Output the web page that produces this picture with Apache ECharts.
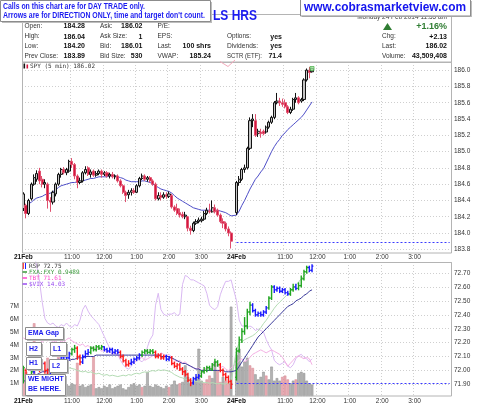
<!DOCTYPE html>
<html><head><meta charset="utf-8">
<script src="https://cdn.jsdelivr.net/npm/echarts@6/dist/echarts.min.js"></script>
<style>html,body{margin:0;padding:0;background:#fff}#c{width:480px;height:406px}</style>
</head><body><div id="c"></div>
<script>
const FONT = '"Liberation Sans", Arial, sans-serif';
const MONO = '"DejaVu Sans Mono", monospace';

// ---------- axis / category structure ----------
const DAY1_BARS = 78;          // 9:30 .. 15:55, 5 min
const DAY2_START = 79;         // one blank slot between sessions
const SLOTS = 159;
const tickLabels = {0:'21Feb',18:'11:00',30:'12:00',42:'1:00',54:'2:00',66:'3:00',
                    79:'24Feb',97:'11:00',109:'12:00',121:'1:00',133:'2:00',145:'3:00'};
const dateTicks = [0, 79];
const priceTicks = {min:183.8, max:186.1, interval:0.2};
const rspTicks = {min:71.9, max:72.78, interval:0.1};
const volTicks = {min:0, max:10.5, interval:1, shownMax:7};

// ---------- SPY 5 min candles [open, close, low, high] ----------
const spyDay1 = [
[184.30,184.48,184.27,184.50],[184.34,184.24,184.18,184.36],[184.24,184.40,184.22,184.42],[184.42,184.60,184.40,184.62],
[184.60,184.68,184.58,184.72],[184.66,184.73,184.63,184.77],[184.76,184.64,184.60,184.80],[184.66,184.60,184.56,184.70],
[184.60,184.62,184.55,184.66],[184.60,184.40,184.30,184.62],[184.40,184.38,184.26,184.44],[184.38,184.50,184.35,184.52],
[184.48,184.60,184.45,184.62],[184.60,184.72,184.58,184.74],[184.72,184.78,184.68,184.80],[184.78,184.74,184.72,184.81],
[184.74,184.78,184.71,184.80],[184.76,184.88,184.74,184.90],[184.88,184.84,184.80,184.92],[184.84,184.70,184.66,184.86],
[184.70,184.62,184.55,184.72],[184.62,184.64,184.60,184.68],[184.64,184.74,184.62,184.76],[184.74,184.78,184.72,184.82],
[184.80,184.72,184.70,184.82],[184.72,184.75,184.68,184.78],[184.76,184.71,184.69,184.78],[184.71,184.73,184.69,184.76],
[184.73,184.76,184.71,184.78],[184.76,184.72,184.68,184.78],[184.72,184.74,184.70,184.76],[184.74,184.70,184.68,184.76],
[184.70,184.72,184.67,184.74],[184.72,184.69,184.67,184.75],[184.69,184.70,184.66,184.72],[184.70,184.64,184.62,184.72],
[184.64,184.58,184.56,184.66],[184.58,184.50,184.48,184.60],[184.50,184.46,184.38,184.52],[184.47,184.50,184.42,184.53],
[184.50,184.52,184.46,184.55],[184.52,184.50,184.48,184.55],[184.50,184.58,184.49,184.60],[184.58,184.67,184.56,184.69],
[184.67,184.70,184.65,184.73],[184.70,184.66,184.64,184.72],[184.66,184.68,184.63,184.70],[184.68,184.64,184.62,184.70],
[184.64,184.60,184.58,184.66],[184.60,184.42,184.40,184.62],[184.42,184.46,184.40,184.50],[184.46,184.44,184.40,184.50],
[184.44,184.47,184.42,184.50],[184.47,184.45,184.42,184.50],[184.45,184.48,184.43,184.51],[184.46,184.32,184.30,184.48],
[184.32,184.28,184.26,184.34],[184.30,184.24,184.22,184.36],[184.25,184.22,184.19,184.30],[184.23,184.20,184.18,184.26],
[184.20,184.22,184.17,184.26],[184.20,184.06,184.02,184.21],[184.06,184.03,183.98,184.09],[184.03,184.12,184.01,184.14],
[184.12,184.14,184.10,184.17],[184.14,184.16,184.12,184.19],[184.15,184.17,184.13,184.20],[184.17,184.24,184.15,184.27],
[184.24,184.28,184.22,184.31],[184.27,184.26,184.24,184.36],[184.26,184.31,184.25,184.40],[184.31,184.26,184.24,184.35],
[184.28,184.22,184.20,184.30],[184.22,184.14,184.12,184.24],[184.14,184.12,184.06,184.18],[184.12,184.05,184.02,184.14],
[184.05,184.00,183.96,184.08],[184.00,183.90,183.81,184.02]];
const spyDay2 = [
[184.25,184.62,184.22,184.64],[184.62,184.66,184.58,184.70],[184.66,184.78,184.64,184.80],[184.78,184.80,184.74,184.84],
[184.80,185.04,184.78,185.06],[185.04,185.38,185.02,185.42],[185.38,185.40,185.30,185.46],[185.38,185.20,185.18,185.46],
[185.22,185.25,185.18,185.28],[185.24,185.22,185.17,185.28],[185.25,185.22,185.20,185.27],[185.24,185.30,185.22,185.32],
[185.30,185.36,185.28,185.38],[185.36,185.42,185.34,185.44],[185.42,185.60,185.40,185.62],[185.60,185.62,185.58,185.72],
[185.62,185.60,185.56,185.66],[185.60,185.58,185.55,185.65],[185.60,185.55,185.53,185.64],[185.55,185.48,185.46,185.57],
[185.48,185.52,185.46,185.55],[185.52,185.64,185.50,185.66],[185.64,185.66,185.60,185.72],[185.66,185.60,185.58,185.68],
[185.62,185.64,185.60,185.66],[185.64,185.88,185.62,185.90],[185.88,186.00,185.86,186.02],[186.00,185.97,185.90,186.04],
[185.98,186.02,185.97,186.03]];
const spyEmaDay1 = [184.30,184.33,184.36,184.38,184.41,184.43,184.44,184.45,184.47,184.48,184.49,184.51,184.53,184.56,
184.58,184.59,184.60,184.61,184.62,184.62,184.63,184.63,184.64,184.65,184.66,184.67,184.67,184.68,184.69,184.69,184.69,
184.69,184.70,184.70,184.70,184.69,184.68,184.67,184.65,184.64,184.63,184.63,184.63,184.63,184.64,184.64,184.63,184.62,
184.60,184.58,184.56,184.54,184.53,184.52,184.51,184.49,184.46,184.43,184.41,184.39,184.37,184.35,184.33,184.31,184.30,
184.29,184.28,184.28,184.28,184.28,184.28,184.28,184.28,184.27,184.26,184.25,184.23,184.21];
const spyEmaDay2 = [184.22,184.27,184.34,184.40,184.47,184.54,184.60,184.66,184.70,184.75,184.79,184.86,184.93,185.00,
185.06,185.11,185.15,185.20,185.23,185.27,185.30,185.33,185.36,185.39,185.42,185.46,185.51,185.56,185.61];
const spyPrevClose = 183.89;
const spyLast = 186.02;

// ---------- RSP bars [open, close, low, high] + impulse colour code ----------
const rspDay1 = [
[71.92,72.02,71.91,72.03],[72.00,71.92,71.89,72.01],[71.92,71.89,71.86,71.94],[71.90,71.99,71.89,72.00],
[71.99,72.04,71.98,72.06],[72.04,72.07,72.02,72.09],[72.07,72.01,71.99,72.08],[72.01,72.05,72.00,72.07],
[72.05,72.00,71.98,72.06],[72.00,71.95,71.93,72.01],[71.95,71.98,71.94,72.00],[71.98,72.01,71.97,72.03],
[72.01,72.04,72.00,72.05],[72.04,72.06,72.03,72.08],[72.06,72.09,72.05,72.10],[72.09,72.10,72.07,72.12],
[72.10,72.09,72.07,72.12],[72.09,72.12,72.08,72.13],[72.12,72.15,72.11,72.16],[72.15,72.16,72.13,72.18],
[72.16,72.10,72.08,72.17],[72.10,72.06,72.04,72.11],[72.06,72.10,72.05,72.11],[72.10,72.12,72.09,72.14],
[72.12,72.13,72.11,72.15],[72.13,72.16,72.12,72.17],[72.16,72.15,72.14,72.17],[72.15,72.17,72.14,72.18],
[72.17,72.16,72.15,72.18],[72.16,72.17,72.15,72.18],[72.17,72.15,72.14,72.17],[72.15,72.14,72.13,72.16],
[72.14,72.15,72.13,72.16],[72.15,72.13,72.12,72.16],[72.13,72.14,72.12,72.15],[72.14,72.13,72.12,72.15],
[72.13,72.10,72.09,72.14],[72.10,72.07,72.06,72.11],[72.07,72.04,72.03,72.08],[72.04,72.05,72.03,72.07],
[72.05,72.06,72.04,72.08],[72.06,72.08,72.05,72.09],[72.08,72.09,72.07,72.10],[72.09,72.11,72.08,72.12],
[72.11,72.13,72.10,72.14],[72.13,72.14,72.12,72.15],[72.14,72.13,72.12,72.15],[72.13,72.14,72.12,72.15],
[72.14,72.13,72.12,72.15],[72.13,72.10,72.09,72.14],[72.10,72.11,72.09,72.12],[72.11,72.09,72.08,72.12],
[72.09,72.10,72.08,72.11],[72.10,72.08,72.07,72.11],[72.08,72.09,72.07,72.10],[72.09,72.05,72.04,72.10],
[72.05,72.03,72.02,72.06],[72.03,72.04,72.01,72.05],[72.04,72.01,72.00,72.05],[72.01,71.99,71.97,72.02],
[71.99,71.97,71.96,72.00],[71.97,71.93,71.92,71.98],[71.93,71.91,71.89,71.94],[71.91,71.94,71.90,71.95],
[71.94,71.95,71.93,71.97],[71.95,71.96,71.94,71.97],[71.96,71.99,71.95,72.00],[71.99,72.00,71.98,72.02],
[72.00,72.02,71.99,72.03],[72.02,72.01,72.00,72.03],[72.01,72.04,72.00,72.05],[72.04,72.06,72.03,72.08],
[72.06,72.04,72.03,72.07],[72.04,72.00,71.99,72.05],[72.00,71.97,71.96,72.01],[71.97,71.95,71.93,71.98],
[71.95,71.92,71.91,71.96],[71.92,71.90,71.87,71.93]];
const rspDay2 = [
[71.95,72.14,71.93,72.16],[72.14,72.22,72.13,72.24],[72.22,72.28,72.20,72.30],[72.28,72.32,72.26,72.38],
[72.32,72.42,72.30,72.44],[72.42,72.47,72.40,72.49],[72.47,72.43,72.42,72.48],[72.43,72.40,72.39,72.44],
[72.40,72.41,72.39,72.42],[72.41,72.40,72.39,72.42],[72.40,72.42,72.39,72.43],[72.42,72.45,72.41,72.46],
[72.45,72.52,72.44,72.53],[72.52,72.60,72.51,72.61],[72.60,72.58,72.56,72.61],[72.58,72.59,72.57,72.60],
[72.59,72.57,72.56,72.60],[72.57,72.58,72.56,72.59],[72.58,72.56,72.55,72.59],[72.56,72.55,72.54,72.57],
[72.55,72.58,72.54,72.59],[72.58,72.60,72.57,72.62],[72.60,72.59,72.58,72.62],[72.59,72.61,72.58,72.63],
[72.61,72.66,72.60,72.68],[72.66,72.71,72.65,72.72],[72.71,72.74,72.70,72.75],[72.74,72.72,72.71,72.75],
[72.72,72.75,72.71,72.76]];
const rspColorDay1 = 'grrgbbrbrrbbbbbbbbggrrbbbgggggbbbbbbrrrrbbbbgggggrrrrbbrrrrrrrrbbbgggggggrrrrr';
const rspColorDay2 = 'ggggggbbbbbbggbbbbbbggbggggbb';
const rspEmaDay1 = [71.92,71.93,71.94,71.95,71.96,71.97,71.98,71.99,71.99,72.00,72.01,72.02,72.03,72.04,72.05,72.06,
72.06,72.07,72.08,72.08,72.09,72.09,72.09,72.10,72.10,72.10,72.10,72.11,72.11,72.11,72.11,72.11,72.11,72.11,72.11,
72.11,72.11,72.11,72.11,72.11,72.11,72.11,72.11,72.11,72.11,72.11,72.11,72.11,72.11,72.11,72.11,72.10,72.10,72.10,
72.10,72.09,72.08,72.07,72.06,72.05,72.05,72.04,72.03,72.02,72.01,72.01,72.00,72.00,72.00,72.00,72.00,72.00,72.00,
72.00,72.00,71.99,71.99,71.99];
const rspEmaDay2 = [72.00,72.03,72.06,72.09,72.12,72.15,72.18,72.21,72.24,72.26,72.28,72.30,72.32,72.34,72.36,72.38,
72.40,72.42,72.44,72.46,72.47,72.48,72.50,72.51,72.52,72.54,72.55,72.57,72.58];
const rspPrevClose = 71.91;

// ---------- SPY volume (millions) + direction ----------
const volDay1 = [2.2,1.9,1.2,1.0,5.7,1.0,0.9,1.0,0.8,3.0,1.1,0.9,0.8,3.7,1.0,1.1,0.9,0.8,1.0,0.9,2.6,0.8,0.9,0.7,0.8,
0.9,3.1,0.6,0.7,0.6,0.8,0.7,0.9,0.6,0.7,0.8,0.9,0.6,0.5,0.7,0.9,1.0,0.8,0.9,0.7,0.8,1.9,0.8,0.7,0.9,0.8,0.7,0.6,0.8,
0.7,0.9,1.2,0.9,1.0,1.1,2.4,1.5,1.0,1.2,1.5,3.7,1.2,1.0,1.3,1.6,1.4,2.7,2.0,1.1,1.5,1.2,1.0,7.0];
const volDay2 = [3.2,3.7,2.3,2.7,3.0,2.4,2.2,1.7,1.3,1.5,1.9,1.6,1.3,2.3,1.2,1.4,1.2,1.5,1.6,1.3,1.0,1.2,1.3,1.8,1.9,
1.8,1.2,1.0,0.9];
const volDirDay1 = 'dduuduuuuduuuduuuuuuduuuuuduuuuuuuuuuuuuuuuuduuuuuuuuuduuuduuuuuuuuddduuddudd';
const volDirDay2 = 'uuuuudduuuuduuuuuddduuduuuuuu';

// ---------- overlays (no visible axis) ----------
const vixDay1 = [14.75,14.75,14.75,14.75,14.70,14.62,14.52,14.38,14.27,14.24,14.23,14.24,14.22,14.21,14.23,14.22,14.24,
14.22,14.21,14.23,14.22,14.26,14.33,14.36,14.32,14.29,14.27,14.25,14.23,14.19,14.15,14.11,14.07,14.05,14.04,14.03,
13.99,13.96,13.94,13.93,13.95,13.98,14.00,13.99,13.98,14.00,14.08,14.13,14.16,14.36,14.44,14.33,14.30,14.29,14.30,
14.30,14.31,14.29,14.30,14.50,14.56,14.55,14.53,14.53,14.52,14.51,14.50,14.49,14.44,14.36,14.34,14.33,14.35,14.43,
14.48,14.52,14.52,14.53];
const vixDay2 = [14.39,14.26,14.22,14.22,14.21,14.22,14.21,14.19,14.20,14.19,14.18,14.13,14.09,14.06,13.99,13.97,13.96,
13.97,13.98,13.95,13.94,13.96,14.00,14.02,14.03,14.01,14.00,13.98,14.00];
const tbtDay1 = [71.79,71.78,71.80,71.78,71.77,71.79,71.78,71.76,71.78,71.77,71.78,71.76,71.77,71.75,71.77,71.76,71.78,
71.79,71.77,71.76,71.75,71.74,71.75,71.73,71.74,71.72,71.73,71.71,71.72,71.70,71.71,71.69,71.70,71.68,71.69,71.67,
71.66,71.64,71.62,71.61,71.63,71.62,71.64,71.65,71.66,71.64,71.65,71.66,71.67,71.68,71.67,71.69,71.68,71.67,71.68,
71.66,71.64,71.63,71.64,71.62,71.63,71.61,71.60,71.59,71.58,71.59,71.57,71.58,71.59,71.58,71.60,71.61,71.60,71.59,
71.60,71.58,71.57,71.59];
const tbtDay2 = [71.62,71.64,71.65,71.63,71.64,71.66,71.68,71.69,71.70,71.71,71.70,71.69,71.70,71.71,71.70,71.69,71.68,
71.66,71.63,71.60,71.62,71.64,71.66,71.67,71.66,71.65,71.66,71.65,71.61];
const fxDay1 = [0.9325,0.9326,0.9327,0.9328,0.9330,0.9329,0.9331,0.9332,0.9331,0.9333,0.9334,0.9333,0.9335,0.9336,
0.9337,0.9339,0.9341,0.9342,0.9341,0.9340,0.9338,0.9337,0.9336,0.9337,0.9335,0.9336,0.9334,0.9333,0.9334,0.9332,
0.9331,0.9332,0.9330,0.9331,0.9330,0.9329,0.9330,0.9331,0.9330,0.9332,0.9331,0.9333,0.9334,0.9333,0.9335,0.9336,
0.9335,0.9337,0.9338,0.9337,0.9339,0.9338,0.9339,0.9338,0.9337,0.9335,0.9332,0.9330,0.9328,0.9327,0.9325,0.9324,
0.9323,0.9322,0.9322,0.9321,0.9321,0.9320,0.9320,0.9319,0.9320,0.9319,0.9318,0.9319,0.9318,0.9318,0.9319,0.9320];
const fxDay2 = [0.9369,0.9379,0.9381,0.9384,0.9386,0.9388,0.9390,0.9393,0.9397,0.9402,0.9408,0.9413,0.9419,0.9425,
0.9431,0.9436,0.9440,0.9444,0.9448,0.9452,0.9457,0.9461,0.9465,0.9470,0.9475,0.9479,0.9483,0.9486,0.9489];
const vixScale = {min:13.75, max:14.65};
const tbtScale = {min:71.40, max:72.30};
const fxScale = {min:0.9300, max:0.9500};

// ---------- header texts ----------
const quoteTable = [
  [['Open:','184.28'],['Ask:','186.02'],['P/E:',''],['',''],null],
  [['High:','186.04'],['Ask Size:','1'],['EPS:',''],['Options:','yes'],['Chg:','+2.13']],
  [['Low:','184.20'],['Bid:','186.01'],['Last:','100 shrs'],['Dividends:','yes'],['Last:','186.02']],
  [['Prev Close:','183.89'],['Bid Size:','530'],['VWAP:','185.24'],['SCTR (ETF):','71.4'],['Volume:','43,509,408']]
];
const pctChange = '+1.16%';
const quoteDate = 'Monday 24 Feb 2014 11:55 am';
const legendItems = [['RSP 72.75','#333333'],['FXA:FXY 0.9489','#3a9a3a'],['TBT 71.61','#ff44cc'],['$VIX 14.03','#9a4df0']];

// ---------- build ----------
const categories = [];
for (let i = 0; i < SLOTS; i++) {
  let k = i < DAY1_BARS ? i : (i >= DAY2_START ? i - DAY2_START : -1);
  if (k < 0) { categories.push(''); continue; }
  let m = 9 * 60 + 30 + 5 * k, h = Math.floor(m / 60), mm = m % 60;
  categories.push(((h - 1) % 12 + 1) + ':' + (mm < 10 ? '0' : '') + mm);
}
const at1 = (arr) => arr.map((v, i) => [i].concat(v));
const at2 = (arr) => arr.map((v, j) => [DAY2_START + j].concat(v));
const candleData = at1(spyDay1).concat(at2(spyDay2));
const spyEma = at1(spyEmaDay1).concat(at2(spyEmaDay2));
const COL = {g:'#1fa51f', b:'#1a1aff', r:'#ff1a1a'};
const rspData = at1(rspDay1).map((d, i) => d.concat([rspColorDay1[i]]))
  .concat(at2(rspDay2).map((d, j) => d.concat([rspColorDay2[j]])));
const rspEma = at1(rspEmaDay1).concat(at2(rspEmaDay2));
const volItem = (v, x, dir) => ({value:[x, v], itemStyle:{color: dir === 'd' ? 'rgba(224,150,158,0.8)' : 'rgba(160,160,160,0.8)',
  borderColor: dir === 'd' ? '#d98a96' : '#8c8c8c', borderWidth:0.5}});
const volData = volDay1.map((v, i) => volItem(v, i, volDirDay1[i]))
  .concat(volDay2.map((v, j) => volItem(v, DAY2_START + j, volDirDay2[j])));
const vix = at1(vixDay1).concat(at2(vixDay2));
const tbt = at1(tbtDay1).concat(at2(tbtDay2));
const fx = at1(fxDay1).concat(at2(fxDay2));
const lastIdx = DAY2_START + spyDay2.length - 1;

const isTick = (v, step) => Math.abs(v / step - Math.round(v / step)) < 1e-6;
const gridLine = {show:true, lineStyle:{color:'#cfcfcf', type:[1,2], width:1}};
const xLabel = (margin) => ({
  interval: (i) => tickLabels[i] !== undefined, margin, fontSize:6.5, fontFamily:FONT, color:'#333',
  formatter: (v, i) => { const t = tickLabels[i]; if (t === undefined) return ''; return dateTicks.includes(i) ? '{b|' + t + '}' : t; },
  rich:{b:{fontWeight:'bold', fontSize:6.5, fontFamily:FONT, color:'#111'}}
});
const xAxisBase = (gi, withLabels, margin, split) => ({
  type:'category', gridIndex:gi, data:categories, boundaryGap:true,
  axisLine:{show:false}, axisTick:{show:false},
  axisLabel: withLabels ? xLabel(margin) : {show:false},
  splitLine: split ? {show:true, interval:(i) => tickLabels[i] !== undefined, lineStyle:gridLine.lineStyle} : {show:false}
});

// text helpers (graphic)
const mctx = document.createElement('canvas').getContext('2d');
function T(t, x, y, o) {
  o = o || {};
  const font = (o.weight || 'normal') + ' ' + (o.size || 7) + 'px ' + (o.family || FONT);
  let sx = 1;
  if (o.width) { mctx.font = font; sx = o.width / mctx.measureText(t).width; }
  const al = o.align || 'left';
  return {type:'text', x, y, scaleX:sx, z:o.z || 100, silent:true,
    style:{text:t, font, fill:o.color || '#222', textAlign:al, textVerticalAlign:'middle', align:al, verticalAlign:'middle'}};
}
const R = (x, y, w, h, fill, stroke, z) => ({type:'rect', silent:true, z, shape:{x, y, width:w, height:h},
  style:{fill:fill || 'none', stroke:stroke || null, lineWidth:1}});
const box = (x, y, w, h, lines, size) => {
  const els = [R(x + 2, y + 2, w, h, '#b9b9b9', null, 110), R(x + 0.5, y + 0.5, w, h, '#ffffff', '#8c8c8c', 111)];
  lines.forEach((l, k) => els.push(T(l, x + 3, y + (lines.length === 1 ? h / 2 + 0.5 : 5.5 + k * 10), {weight:'bold', size:size || 7, color:'#1a1aee', z:112})));
  return els;
};

const graphics = [];
// panel frames
graphics.push(R(22.5, 14.5, 429, 47.5, null, '#b4b4b4', 60));
graphics.push(R(22.5, 62.5, 429, 190.5, null, '#b4b4b4', 60));
graphics.push(R(22.5, 262.5, 429, 133.5, null, '#b4b4b4', 60));
// quote table
const rowsY = [26.2, 36.7, 46.5, 56.5];
const colLabelX = [24.5, 100, 157.5, 227, 382];
const colValueX = [85, 142.5, 211, 282, 447];
const labelWidths = {'SCTR (ETF):':35, 'Dividends:':31, 'Options:':24};
quoteTable.forEach((row, r) => row.forEach((cell, c) => {
  if (!cell) return;
  if (cell[0]) graphics.push(T(cell[0], colLabelX[c], rowsY[r], {size:6.5, color:'#333', width:labelWidths[cell[0]]}));
  if (cell[1]) graphics.push(T(cell[1], colValueX[c], rowsY[r], {size:7, weight:'bold', align:'right', color:'#111'}));
}));
graphics.push({type:'polygon', silent:true, z:100, shape:{points:[[383,30],[387.5,23],[392,30]]}, style:{fill:'#2f7d32'}});
graphics.push(T(pctChange, 447, 26.5, {size:9, weight:'bold', align:'right', color:'#2f7d32'}));
graphics.push(T(quoteDate, 447, 17, {size:6.5, align:'right', color:'#444'}));
// top-left notice box
graphics.push(R(2, 2, 210, 21, '#bdbdbd', null, 118), R(0.5, 0.5, 210, 21, '#ffffff', '#8c8c8c', 119));
graphics.push(T('Calls on this chart are for DAY TRADE only.', 3, 6.5, {weight:'bold', size:8.5, color:'#1c1cf0', width:142, z:120}));
graphics.push(T("Arrows are for DIRECTION ONLY, time and target don't count.", 3, 15.5, {weight:'bold', size:8.5, color:'#1c1cf0', width:202, z:120}));
// title
graphics.push(T('LS HRS', 213, 16.5, {weight:'bold', size:14, color:'#1c1cf0', width:44, z:100}));
// url box
graphics.push(R(302, 1, 170, 16, '#bdbdbd', null, 118), R(300.5, -0.5, 170, 16.5, '#ffffff', '#8c8c8c', 119));
graphics.push(T('www.cobrasmarketview.com', 304, 7.8, {weight:'bold', size:13, color:'#1414ee', width:162, z:120}));
// price panel caption
graphics.push(R(23.5, 63.5, 1.6, 5, '#111', null, 100), R(26.5, 64.5, 1.6, 4, '#d5173e', null, 100));
graphics.push(T('SPY (5 min) 186.02', 30, 66.3, {size:6, family:MONO, color:'#333'}));
graphics.push({type:'polyline', silent:true, z:100, shape:{points:[[220,61.5],[228,66.5],[235,60]]}, style:{stroke:'#f3a9bb', lineWidth:1, fill:null}});
// lower legend
legendItems.forEach((it, k) => {
  const y = 266 + k * 6;
  if (k === 0) {
    graphics.push(R(22.8, y - 3, 1, 6, '#ff1a1a', null, 100), R(25, y - 3, 1, 6, '#1a1aff', null, 100));
  } else {
    graphics.push({type:'line', silent:true, z:100, shape:{x1:22.5, y1:y, x2:27, y2:y}, style:{stroke:it[1], lineWidth:1.5}});
  }
  graphics.push(T(it[0], 29, y + 0.3, {size:6, family:MONO, color:it[1]}));
});
// annotation boxes
[].concat(
  box(25, 327, 38, 12, ['EMA Gap']),
  box(26, 342, 15, 13, ['H2']),
  box(50, 342, 16, 13, ['L1']),
  box(26, 357, 15, 12, ['H1']),
  box(49, 359, 18, 13, ['L2']),
  box(25, 374, 40, 21, ['WE MIGHT', 'BE HERE.'])
).forEach(e => graphics.push(e));

const chart = echarts.init(document.getElementById('c'), null, {renderer:'canvas', width:480, height:406});
chart.setOption({
  animation:false,
  backgroundColor:'#ffffff',
  textStyle:{fontFamily:FONT},
  grid:[
    {left:22, top:62, width:429, height:187.3, outerBoundsMode:'none', show:false},
    {left:22, top:262, width:429, height:122.3, outerBoundsMode:'none', show:false},
    {left:22, top:262, width:429, height:134, outerBoundsMode:'none', show:false}
  ],
  xAxis:[xAxisBase(0, true, 4, true), xAxisBase(1, false, 0, false), xAxisBase(2, true, 1.5, true)],
  yAxis:[
    {type:'value', gridIndex:0, position:'right', min:priceTicks.min, max:priceTicks.max, interval:priceTicks.interval,
     axisLine:{show:false}, axisTick:{show:false}, splitLine:gridLine,
     axisLabel:{fontSize:6.5, color:'#333', margin:3, fontFamily:FONT, formatter:(v) => isTick(v, 0.2) ? v.toFixed(1) : ''}},
    {type:'value', gridIndex:1, position:'right', min:rspTicks.min, max:rspTicks.max, interval:rspTicks.interval,
     axisLine:{show:false}, axisTick:{show:false}, splitLine:gridLine,
     axisLabel:{fontSize:6.5, color:'#333', margin:3, fontFamily:FONT, formatter:(v) => isTick(v, 0.1) && v <= 72.71 ? v.toFixed(2) : ''}},
    {type:'value', gridIndex:2, position:'left', min:volTicks.min, max:volTicks.max, interval:volTicks.interval,
     axisLine:{show:false}, axisTick:{show:false}, splitLine:{show:false},
     axisLabel:{fontSize:6.5, color:'#333', margin:3, fontFamily:FONT, formatter:(v) => (v >= 1 && v <= volTicks.shownMax && isTick(v, 1)) ? Math.round(v) + 'M' : ''}},
    {type:'value', gridIndex:2, show:false, min:vixScale.min, max:vixScale.max},
    {type:'value', gridIndex:2, show:false, min:tbtScale.min, max:tbtScale.max},
    {type:'value', gridIndex:2, show:false, min:fxScale.min, max:fxScale.max}
  ],
  series:[
    {type:'candlestick', xAxisIndex:0, yAxisIndex:0, data:candleData, encode:{x:0, y:[1,2,3,4]}, barWidth:2.6, z:5,
     itemStyle:{color:'#c4c4c4', color0:'#d5173e', borderColor:'#111111', borderColor0:'#e0506e', borderWidth:1}},
    {type:'line', xAxisIndex:0, yAxisIndex:0, data:spyEma, symbol:'none', z:4,
     lineStyle:{color:'#4e4ec8', width:1},
     markLine:{silent:true, symbol:'none', label:{show:false}, lineStyle:{color:'#3a3aff', type:[2,2], width:1},
       data:[[{coord:[DAY2_START, spyPrevClose]}, {coord:[SLOTS - 1, spyPrevClose]}]]}},
    {type:'scatter', xAxisIndex:0, yAxisIndex:0, data:[[lastIdx, spyLast]], symbol:'rect', symbolSize:4, z:6,
     itemStyle:{color:'#9be39b', borderColor:'#3aa53a', borderWidth:0.8}},
    {type:'bar', xAxisIndex:2, yAxisIndex:2, data:volData, barWidth:2.6, z:1},
    {type:'line', xAxisIndex:2, yAxisIndex:3, data:vix, symbol:'none', z:2, lineStyle:{color:'#d9b8f2', width:1}},
    {type:'line', xAxisIndex:2, yAxisIndex:4, data:tbt, symbol:'none', z:2, lineStyle:{color:'#f4b0e4', width:1}},
    {type:'line', xAxisIndex:2, yAxisIndex:5, data:fx, symbol:'none', z:2, lineStyle:{color:'#b4dcb4', width:1}},
    {type:'line', xAxisIndex:1, yAxisIndex:1, data:rspEma, symbol:'none', z:3,
     lineStyle:{color:'#3a3a9a', width:1},
     markLine:{silent:true, symbol:'none', label:{show:false}, lineStyle:{color:'#3a3aff', type:[2,2], width:1},
       data:[[{coord:[DAY2_START, rspPrevClose]}, {coord:[SLOTS - 1, rspPrevClose]}]]}},
    {type:'custom', xAxisIndex:1, yAxisIndex:1, data:rspData, encode:{x:0, y:[1,2,3,4]}, z:4,
     renderItem:(params, api) => {
       const x = api.value(0);
       const o = api.coord([x, api.value(1)]), c = api.coord([x, api.value(2)]);
       const l = api.coord([x, api.value(3)]), h = api.coord([x, api.value(4)]);
       const w = api.size([1, 0])[0] * 0.5;
       const col = COL[api.value(5)] || '#1a1aff';
       const st = {stroke:col, lineWidth:1.4};
       return {type:'group', children:[
         {type:'line', shape:{x1:h[0], y1:h[1] - 0.5, x2:l[0], y2:l[1] + 0.5}, style:st},
         {type:'line', shape:{x1:o[0] - w, y1:o[1], x2:o[0], y2:o[1]}, style:st},
         {type:'line', shape:{x1:c[0], y1:c[1], x2:c[0] + w, y2:c[1]}, style:st}
       ]};
     }}
  ],
  graphic:{elements:graphics}
});
</script></body></html>
